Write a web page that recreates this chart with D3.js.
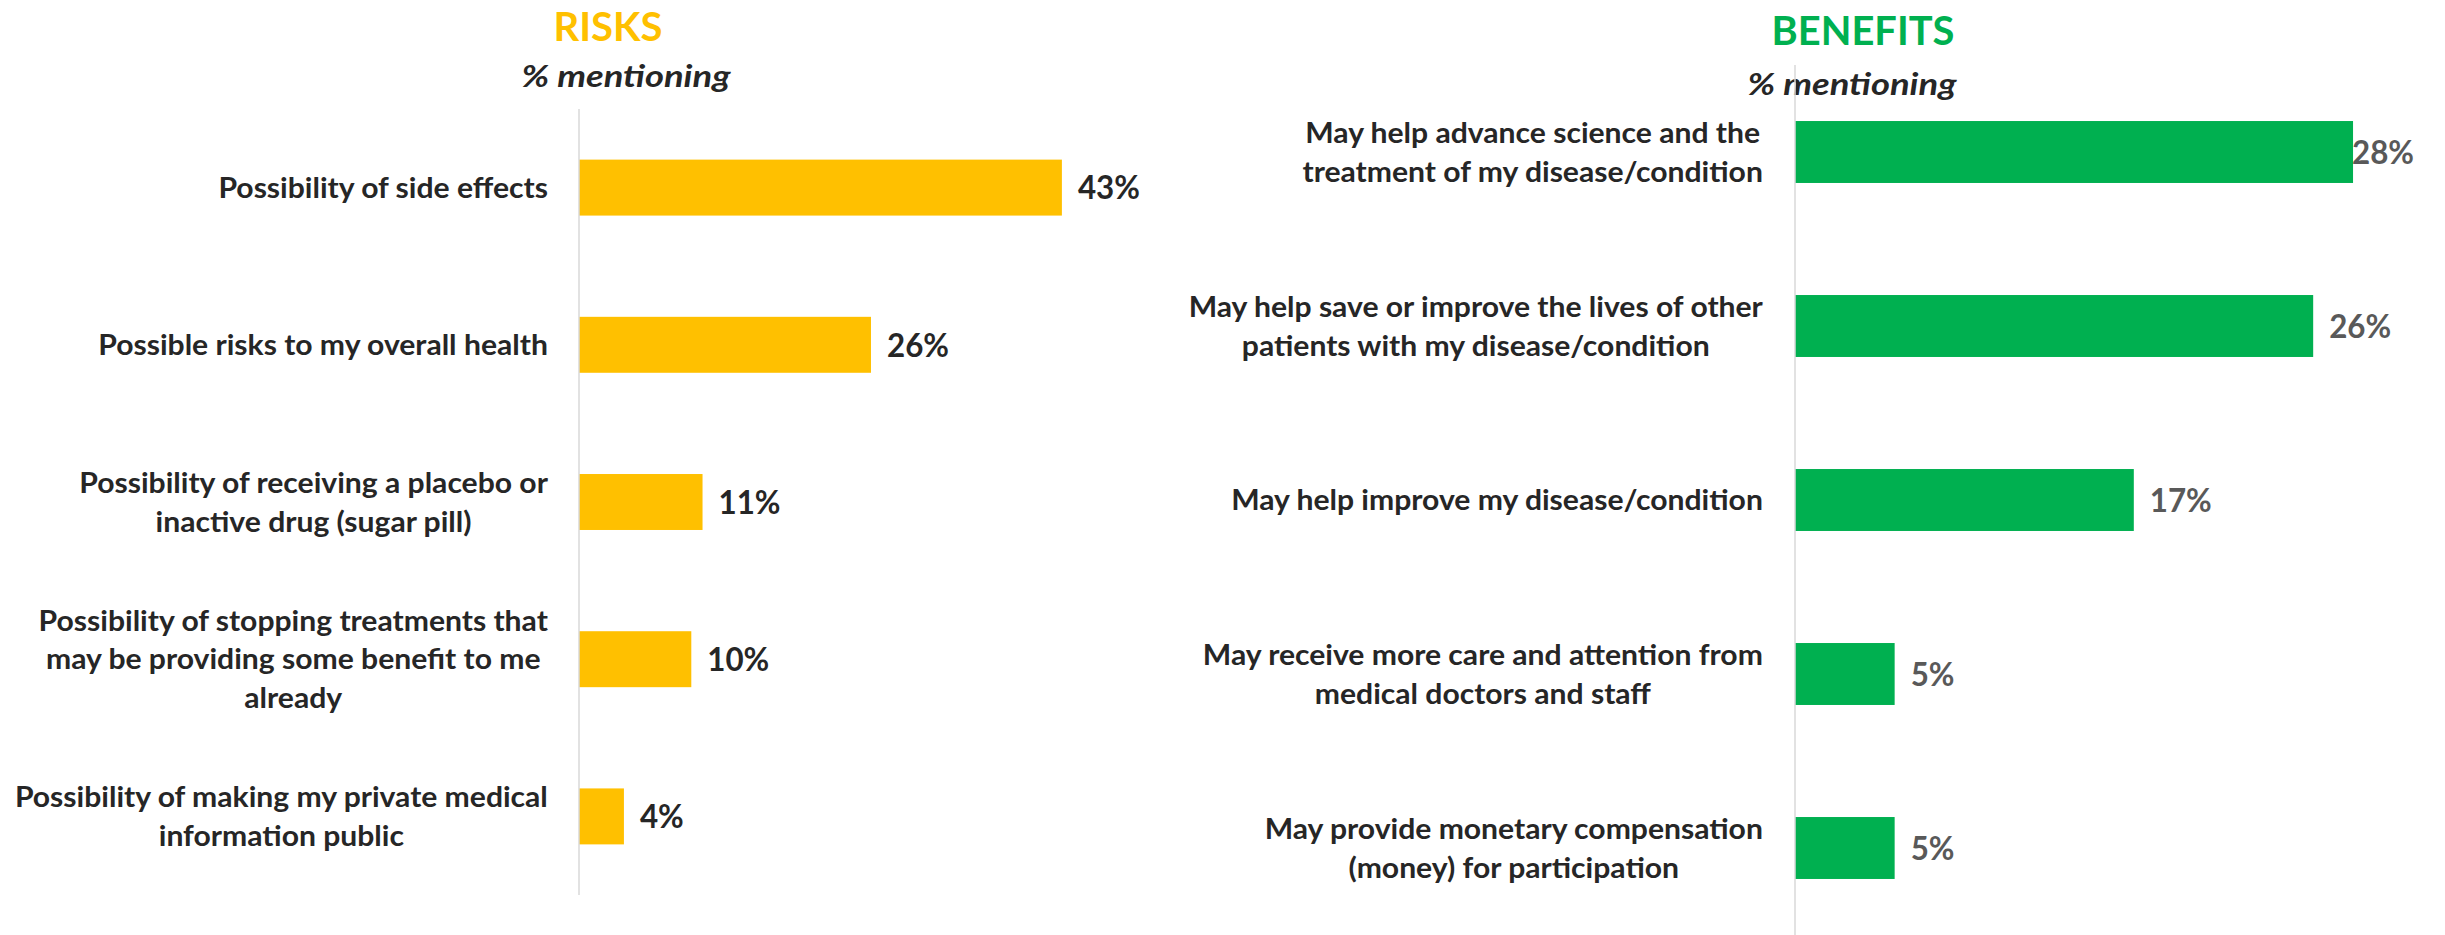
<!DOCTYPE html>
<html>
<head>
<meta charset="utf-8">
<script src="https://cdn.jsdelivr.net/npm/d3@7"></script>
<style>
  html, body { margin: 0; padding: 0; background: #ffffff; }
  svg { display: block; }
</style>
</head>
<body>
<script>
// ---------------- DATA ----------------
const riskTitle = "RISKS";
const benefitTitle = "BENEFITS";
const subTitle = "% mentioning";

const riskCategories = [
  "Possibility of side effects",
  "Possible risks to my overall health",
  "Possibility of receiving a placebo or\ninactive drug (sugar pill)",
  "Possibility of stopping treatments that\nmay be providing some benefit to me\nalready",
  "Possibility of making my private medical\ninformation public"
];
const riskValues = [43, 26, 11, 10, 4];

const benefitCategories = [
  "May help advance science and the\ntreatment of my disease/condition",
  "May help save or improve the lives of other\npatients with my disease/condition",
  "May help improve my disease/condition",
  "May receive more care and attention from\nmedical doctors and staff",
  "May provide monetary compensation\n(money) for participation"
];
const benefitValues = [28, 26, 17, 5, 5];

// ---------------- STYLE / LAYOUT ----------------
const W = 2445, H = 935;
const FONT = "Lato, 'Open Sans', sans-serif";

const svg = d3.select("body").append("svg")
  .attr("width", W).attr("height", H)
  .style("background", "#ffffff");

function measure(str, size, weight, style) {
  const t = svg.append("text")
    .attr("font-family", FONT).attr("font-size", size)
    .attr("font-weight", weight).attr("font-style", style || "normal")
    .text(str);
  const w = t.node().getComputedTextLength();
  t.remove();
  return w;
}

// font sizes chosen from cap heights; horizontal squeeze from reference widths
const labelSize = 28.5;
const labelSX = 532 / measure("May help improve my disease/condition", labelSize, 700);
const valueSize = 33;
const valueSX = 62 / measure("43%", valueSize, 700);
const titleSize = 39.5;
const titleSXL = 109 / measure(riskTitle, titleSize, 700);
const titleSXR = 183 / measure(benefitTitle, titleSize, 700);
const subSize = 30;
const subSX = 209 / measure(subTitle, subSize, 700, "italic");

function drawText(g, str, x, y, opt) {
  return g.append("text")
    .attr("transform", `translate(${x},${y}) scale(${opt.sx},1)`)
    .attr("x", 0).attr("y", 0)
    .attr("dy", opt.dy || 0)
    .attr("text-anchor", opt.anchor || "start")
    .attr("font-family", FONT)
    .attr("font-weight", 700)
    .attr("font-style", opt.style || "normal")
    .attr("font-size", opt.size)
    .attr("fill", opt.fill)
    .text(str);
}

const panels = [
  {
    title: riskTitle, titleColor: "#FFC000", titleX: 608, titleY: 41, titleSX: titleSXL,
    subX: 626, subY: 87,
    cats: riskCategories, vals: riskValues,
    barColor: "#FFC000", valColor: "#262626",
    axisX: 579, top: 109, bottom: 895, domainMax: 50, pxPer: 11.23,
    labelRight: 548, valueMaxRight: 1200
  },
  {
    title: benefitTitle, titleColor: "#00B050", titleX: 1863, titleY: 45, titleSX: titleSXR,
    subX: 1852, subY: 95,
    cats: benefitCategories, vals: benefitValues,
    barColor: "#00B050", valColor: "#595959",
    axisX: 1795, top: 65, bottom: 935, domainMax: 30, pxPer: 19.93,
    labelRight: 1763, valueMaxRight: 2414
  }
];

const lineGap = 38.5;

panels.forEach(p => {
  const g = svg.append("g");

  const x = d3.scaleLinear()
    .domain([0, p.domainMax])
    .range([p.axisX, p.axisX + p.domainMax * p.pxPer]);

  const pad = 0.644;
  const y = d3.scaleBand()
    .domain(p.cats)
    .range([p.top, p.bottom])
    .paddingInner(pad)
    .paddingOuter(pad / 2);

  // Titles
  drawText(g, p.title, p.titleX, p.titleY,
    { sx: p.titleSX, anchor: "middle", size: titleSize, fill: p.titleColor });
  drawText(g, subTitle, p.subX, p.subY,
    { sx: subSX, anchor: "middle", size: subSize, fill: "#262626", style: "italic" });

  // Bars
  g.selectAll("rect.bar")
    .data(p.vals)
    .join("rect")
    .attr("class", "bar")
    .attr("x", x(0))
    .attr("y", (d, i) => y(p.cats[i]))
    .attr("width", d => x(d) - x(0))
    .attr("height", y.bandwidth())
    .attr("fill", p.barColor);

  // Axis line (vertical baseline)
  g.append("line")
    .attr("x1", x(0)).attr("x2", x(0))
    .attr("y1", p.top).attr("y2", p.bottom)
    .attr("stroke", "#d9d9d9").attr("stroke-width", 1.5);

  // Category labels (centered lines, block right-aligned)
  p.cats.forEach(cat => {
    const lines = cat.split("\n");
    const maxW = d3.max(lines, l => measure(l, labelSize, 700)) * labelSX;
    const cx = p.labelRight - maxW / 2;
    const cy = y(cat) + y.bandwidth() / 2;
    const n = lines.length;
    lines.forEach((l, j) => {
      drawText(g, l, cx, cy + (j - (n - 1) / 2) * lineGap,
        { sx: labelSX, anchor: "middle", size: labelSize, fill: "#262626", dy: "0.36em" });
    });
  });

  // Value labels
  p.vals.forEach((v, i) => {
    const txt = v + "%";
    const w = measure(txt, valueSize, 700) * valueSX;
    const lx = Math.min(x(v) + 16, p.valueMaxRight - w);
    drawText(g, txt, lx, y(p.cats[i]) + y.bandwidth() / 2,
      { sx: valueSX, size: valueSize, fill: p.valColor, dy: "0.36em" });
  });
});
</script>
</body>
</html>
